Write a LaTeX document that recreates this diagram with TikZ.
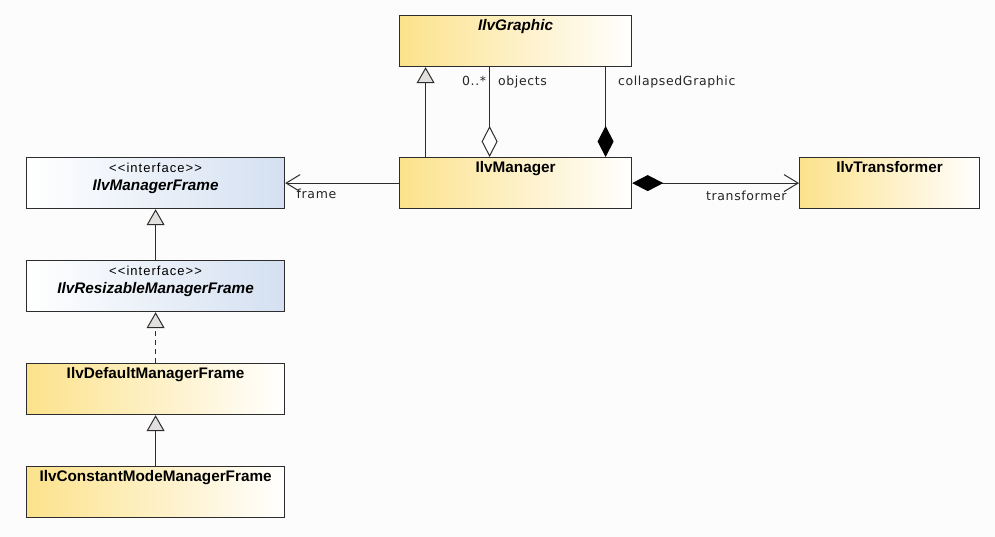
\documentclass[tikz,border=0pt]{standalone}
\usepackage{fontspec}
\setmainfont{Liberation Sans}
\newfontfamily\rolefont[LetterSpace=5]{DejaVu Sans}
\newfontfamily\stereofont[LetterSpace=8]{Liberation Sans}
\usetikzlibrary{arrows.meta}
\definecolor{ylw}{RGB}{252,226,140}
\definecolor{blu}{RGB}{212,224,241}
\definecolor{edge}{RGB}{45,45,45}
\definecolor{trigray}{RGB}{226,223,223}
\definecolor{bg}{RGB}{252,252,252}
\begin{document}
\begin{tikzpicture}[x=1pt,y=-1pt,
  box/.style={draw=edge, line width=1.2pt, inner sep=0pt, align=center,
    anchor=north west, text height=15pt, text depth=36pt,
    font=\fontsize{15.3}{18}\selectfont},
  cls/.style={box, left color=ylw, right color=white},
  iface/.style={box, left color=white, right color=blu},
  link/.style={draw=edge, line width=1pt},
  gen/.style={link, -{Triangle[length=16pt,width=18pt,fill=trigray]}},
  real/.style={gen, dash pattern=on 5pt off 4pt},
  agg/.style={link, {Diamond[length=31pt,width=16pt,fill=white]}-},
  comp/.style={link, {Diamond[length=31pt,width=16pt,color=black]}-},
  nav/.style={link, -{Straight Barb[length=14pt,width=17pt]}},
  role/.style={font=\rolefont\fontsize{12.5}{14}\selectfont, inner sep=0pt, text=black!85}]

\fill[bg] (0,0) rectangle (995,537);
\useasboundingbox (0,0) rectangle (995,537);

% classes
\node[cls, text width=232pt] (graphic) at (399,15) {\bfseries\itshape IlvGraphic};
\node[cls, text width=232pt] (manager) at (399,157) {\bfseries IlvManager};
\node[cls, text width=180pt] (transformer) at (799,157) {\bfseries IlvTransformer};

% interfaces
\node[iface, text width=258pt] (mframe) at (26,157)
  {{\stereofont\fontsize{13}{18}\selectfont <{}<interface>{}>}\\\bfseries\itshape IlvManagerFrame};
\node[iface, text width=258pt] (rframe) at (26,260)
  {{\stereofont\fontsize{13}{18}\selectfont <{}<interface>{}>}\\\bfseries\itshape IlvResizableManagerFrame};

% frame implementations
\node[cls, text width=258pt] (dframe) at (26,363) {\bfseries IlvDefaultManagerFrame};
\node[cls, text width=258pt] (cframe) at (26,466) {\bfseries IlvConstantModeManagerFrame};

% inheritance
\draw[gen] ([xshift=-90pt]manager.north) -- ([xshift=-90pt]graphic.south);
\draw[gen] (rframe.north) -- (mframe.south);
\draw[real] (dframe.north) -- (rframe.south);
\draw[gen] (cframe.north) -- (dframe.south);

% associations
\draw[agg] ([xshift=-26pt]manager.north) -- ([xshift=-26pt]graphic.south)
  node[role, pos=1, anchor=base east, xshift=-3pt, yshift=-18pt] {0..*}
  node[role, pos=1, anchor=base west, xshift=8pt, yshift=-18pt] {objects};
\draw[comp] ([xshift=90pt]manager.north) -- ([xshift=90pt]graphic.south)
  node[role, pos=1, anchor=base west, xshift=12pt, yshift=-18pt] {collapsedGraphic};
\draw[nav] (manager.west) -- (mframe.east)
  node[role, pos=1, anchor=base west, xshift=11pt, yshift=-15.5pt] {frame};
\draw[link, {Diamond[length=31pt,width=16pt,color=black]}-{Straight Barb[length=14pt,width=17pt]}]
  (manager.east) -- (transformer.west)
  node[role, pos=1, anchor=base east, xshift=-12pt, yshift=-17.5pt] {transformer};
\end{tikzpicture}
\end{document}
